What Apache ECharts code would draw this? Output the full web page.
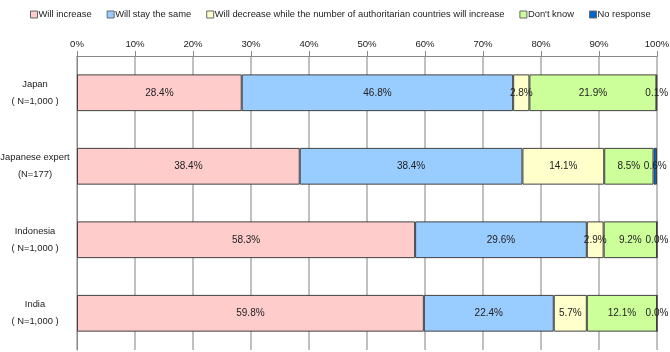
<!doctype html>
<html lang="en">
<head>
<meta charset="UTF-8">
<title>Chart</title>
<style>
  html, body { margin: 0; padding: 0; background: #fff; }
  #main { width: 670px; height: 352px; }
</style>
</head>
<body>
<div id="main"></div>
<script src="https://cdn.jsdelivr.net/npm/echarts@6/dist/echarts.min.js"></script>
<script>
// categories (top to bottom)
const categories = ['Japan\n( N=1,000 )', 'Japanese expert\n(N=177)', 'Indonesia\n( N=1,000 )', 'India\n( N=1,000 )'];
const seriesNames = ['Will increase', 'Will stay the same', 'Will decrease while the number of authoritarian countries will increase', "Don't know", 'No response'];
const willIncrease = [28.4, 38.4, 58.3, 59.8];
const willStay = [46.8, 38.4, 29.6, 22.4];
const willDecrease = [2.8, 14.1, 2.9, 5.7];
const dontKnow = [21.9, 8.5, 9.2, 12.1];
const noResponse = [0.1, 0.6, 0.0, 0.0];
const colors = ['#ffcccc', '#99ccff', '#ffffcc', '#ccff99', '#0066cc'];

const FONT = "'Liberation Sans', Arial, sans-serif";
const myChart = echarts.init(document.getElementById('main'));
const allData = [willIncrease, willStay, willDecrease, dontKnow, noResponse];

const series = allData.map(function (d, i) {
    return {
        name: seriesNames[i],
        type: 'bar',
        stack: 'total',
        data: d,
        barWidth: '50%',
        itemStyle: { color: colors[i], borderColor: '#404040', borderWidth: 1 },
        label: {
            show: true,
            position: 'inside',
            formatter: function (p) { return p.value.toFixed(1) + '%'; },
            color: '#222',
            fontFamily: FONT,
            fontSize: 10
        },
        emphasis: { disabled: true }
    };
});

const option = {
    animation: false,
    legend: {
        top: 10,
        left: 30,
        width: 640,
        padding: 0,
        itemWidth: 7,
        itemHeight: 7,
        itemGap: 15,
        icon: 'rect',
        textStyle: { fontFamily: FONT, fontSize: 9.4, color: '#222', padding: [0, 0, 0, -4] },
        data: seriesNames.map(function (n) {
            return { name: n, itemStyle: { borderColor: '#666', borderWidth: 1 } };
        })
    },
    grid: { left: 77, right: 13, top: 56, bottom: 2, outerBoundsMode: 'none', containLabel: false },
    xAxis: {
        type: 'value',
        position: 'top',
        min: 0,
        max: 100,
        interval: 10,
        axisLine: { show: true, lineStyle: { color: '#888' } },
        axisTick: { show: true, length: 5, lineStyle: { color: '#888' } },
        axisLabel: { formatter: '{value}%', color: '#222', fontFamily: FONT, fontSize: 9.6, margin: 7 },
        splitLine: { show: true, lineStyle: { color: '#c0c0c0', width: 2 } }
    },
    yAxis: {
        type: 'category',
        inverse: true,
        data: categories,
        axisLine: { show: true, lineStyle: { color: '#888' } },
        axisTick: { show: false },
        axisLabel: { color: '#222', fontFamily: FONT, fontSize: 9.4, lineHeight: 17, align: 'center', margin: 42 },
        splitLine: { show: false }
    },
    series: series
};
myChart.setOption(option);
</script>
</body>
</html>
